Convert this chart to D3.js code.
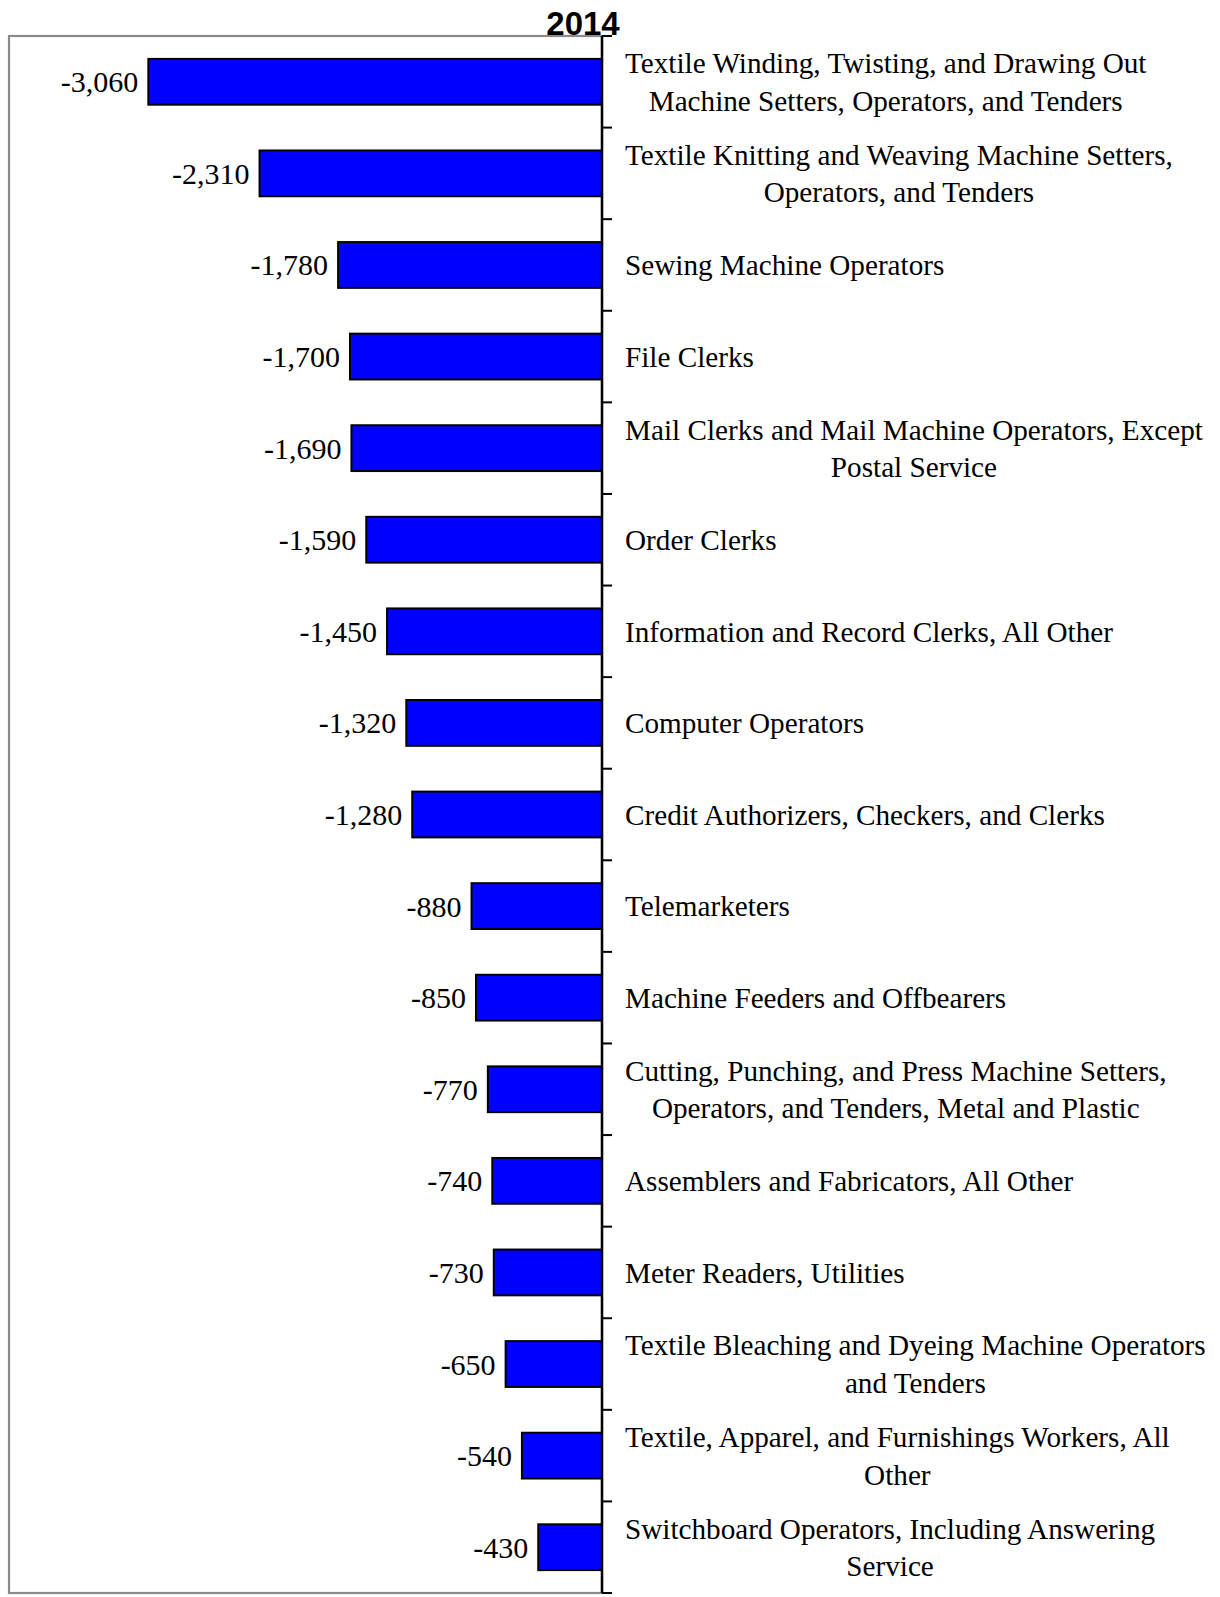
<!DOCTYPE html>
<html>
<head>
<meta charset="utf-8">
<script src="https://cdn.jsdelivr.net/npm/d3@7"></script>
<style>
  html, body { margin: 0; padding: 0; background: #fff; }
  svg { display: block; }
</style>
</head>
<body>
<svg id="chart" width="1220" height="1597"></svg>
<script>
// Occupations with the largest job declines, 2014
const title = "2014";
const occupations = [
  ["Textile Winding, Twisting, and Drawing Out", "Machine Setters, Operators, and Tenders"],
  ["Textile Knitting and Weaving Machine Setters,", "Operators, and Tenders"],
  ["Sewing Machine Operators"],
  ["File Clerks"],
  ["Mail Clerks and Mail Machine Operators, Except", "Postal Service"],
  ["Order Clerks"],
  ["Information and Record Clerks, All Other"],
  ["Computer Operators"],
  ["Credit Authorizers, Checkers, and Clerks"],
  ["Telemarketers"],
  ["Machine Feeders and Offbearers"],
  ["Cutting, Punching, and Press Machine Setters,", "Operators, and Tenders, Metal and Plastic"],
  ["Assemblers and Fabricators, All Other"],
  ["Meter Readers, Utilities"],
  ["Textile Bleaching and Dyeing Machine Operators", "and Tenders"],
  ["Textile, Apparel, and Furnishings Workers, All", "Other"],
  ["Switchboard Operators, Including Answering", "Service"]
];
const changes = [-3060, -2310, -1780, -1700, -1690, -1590, -1450, -1320, -1280,
                 -880, -850, -770, -740, -730, -650, -540, -430];
const xDomain = [-4000, 0];

const svg = d3.select("#chart");
const plot = { left: 9, right: 602, top: 36, bottom: 1593 };

const keys = occupations.map((d, i) => i);
const x = d3.scaleLinear().domain(xDomain).range([plot.left, plot.right]);
const y = d3.scaleBand().domain(keys).range([plot.top, plot.bottom]).paddingInner(0.5).paddingOuter(0.25);
const band = d3.scaleBand().domain(keys).range([plot.top, plot.bottom]);

// plot frame
svg.append("rect")
  .attr("x", plot.left).attr("y", plot.top)
  .attr("width", plot.right - plot.left).attr("height", plot.bottom - plot.top)
  .attr("fill", "none").attr("stroke", "#8a8a8a").attr("stroke-width", 2.2);

// title
svg.append("text")
  .attr("x", 583).attr("y", 35)
  .attr("text-anchor", "middle")
  .attr("font-family", "'Liberation Sans', Arial, sans-serif")
  .attr("font-weight", "bold").attr("font-size", 33)
  .text(title);

// bars
svg.append("g").selectAll("rect").data(changes).join("rect")
  .attr("x", d => x(d))
  .attr("y", (d, i) => y(i))
  .attr("width", d => x(0) - x(d))
  .attr("height", y.bandwidth())
  .attr("fill", "#0000ff")
  .attr("stroke", "#000").attr("stroke-width", 2);

// value labels
const fmt = d3.format(",");
svg.append("g").selectAll("text").data(changes).join("text")
  .attr("x", d => x(d) - 10)
  .attr("y", (d, i) => y(i) + y.bandwidth() / 2)
  .attr("dy", "0.35em")
  .attr("text-anchor", "end")
  .attr("font-family", "'Liberation Serif', 'Times New Roman', serif")
  .attr("font-size", 30)
  .text(d => d < 0 ? "-" + fmt(-d) : fmt(d));

// category axis on the zero line, ticks at band boundaries
const axis = svg.append("g");
axis.append("line")
  .attr("x1", x(0)).attr("x2", x(0))
  .attr("y1", plot.top).attr("y2", plot.bottom)
  .attr("stroke", "#000").attr("stroke-width", 2.5);
const edges = keys.map(k => band(k)).concat([plot.bottom]);
axis.selectAll("line.tick").data(edges).join("line")
  .attr("class", "tick")
  .attr("x1", x(0)).attr("x2", x(0) + 10)
  .attr("y1", d => d).attr("y2", d => d)
  .attr("stroke", "#000").attr("stroke-width", 2);

// category labels: block left-aligned, lines centred within the block
const lineH = 37.5;
const labelLeft = 625;
const labels = svg.append("g")
  .attr("font-family", "'Liberation Serif', 'Times New Roman', serif")
  .attr("font-size", 29.2);
occupations.forEach((lines, i) => {
  const cy = band(i) + band.bandwidth() / 2;
  const g = labels.append("g");
  const texts = lines.map((s, j) => g.append("text")
    .attr("y", cy + (j - (lines.length - 1) / 2) * lineH)
    .attr("dy", "0.35em")
    .text(s));
  const widths = texts.map(t => t.node().getComputedTextLength());
  const w = d3.max(widths);
  texts.forEach(t => t.attr("x", labelLeft + w / 2).attr("text-anchor", "middle"));
});
</script>
</body>
</html>
